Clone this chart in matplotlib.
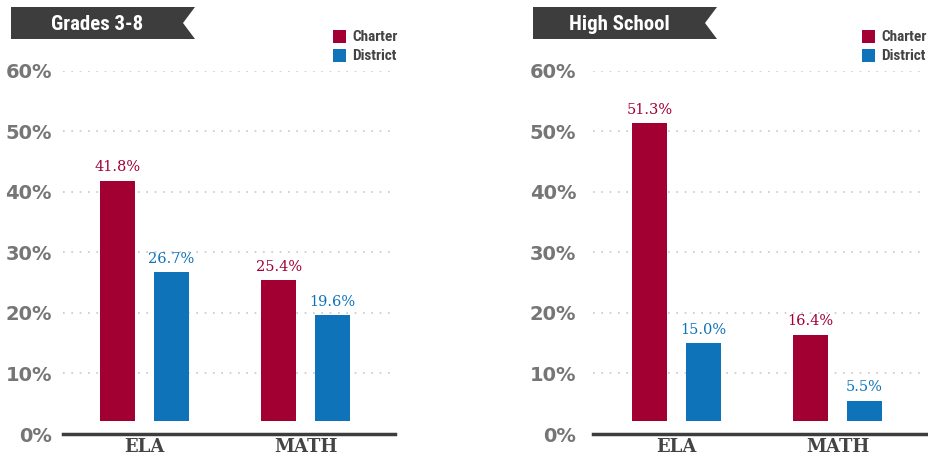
import numpy as np
import matplotlib.pyplot as plt
from matplotlib import font_manager
from matplotlib.patches import Polygon, Rectangle

subjects = ["ELA", "MATH"]
grades_charter = [41.8, 25.4]
grades_district = [26.7, 19.6]
hs_charter = [51.3, 16.4]
hs_district = [15.0, 5.5]
yticks = [0, 10, 20, 30, 40, 50, 60]

RED = "#a20033"
BLUE = "#0f73b9"
DARK = "#3d3d3d"
GRAY = "#767676"

installed = {f.name for f in font_manager.fontManager.ttflist}
narrow_opts = ["Liberation Sans Narrow", "Roboto Condensed", "DejaVu Sans Condensed",
               "Open Sans Condensed", "Roboto"]
NARROW = [n for n in narrow_opts if n in installed][:1] + ["DejaVu Sans"]

base = 2.1  # bars float a little above the axis line
w = 0.217
off = 0.166

fig = plt.figure(figsize=(9.29, 4.55), dpi=100)

# full-figure overlay in pixel coords for banners / legends
ov = fig.add_axes([0, 0, 1, 1])
ov.set_xlim(0, 929)
ov.set_ylim(455, 0)
ov.axis("off")


def banner(x0, x1, text):
    y0, y1 = 7, 39
    pts = [(x0, y0), (x1, y0), (x1 - 12, (y0 + y1) / 2), (x1, y1), (x0, y1)]
    ov.add_patch(Polygon(pts, closed=True, color=DARK, lw=0))
    ov.text((x0 + x1 - 12) / 2, (y0 + y1) / 2 + 1, text, color="white",
            fontsize=15, fontweight="bold", family=NARROW,
            ha="center", va="center")


def legend(x, y):
    for i, (lab, c) in enumerate([("Charter", RED), ("District", BLUE)]):
        yy = y + i * 19
        ov.add_patch(Rectangle((x, yy), 13, 13, color=c, lw=0))
        ov.text(x + 19, yy + 7, lab, color="#444444", fontsize=11,
                fontweight="bold", family=NARROW, va="center", ha="left")


def panel(rect, charter, district, xlim, pad):
    ax = fig.add_axes(rect)
    x = np.arange(len(subjects))
    ch = np.array(charter)
    di = np.array(district)
    ax.bar(x - off, ch - base, w, bottom=base, color=RED, zorder=3)
    ax.bar(x + off, di - base, w, bottom=base, color=BLUE, zorder=3)
    for xi, v in zip(x - off, ch):
        ax.text(xi, v + 1.1, f"{v:.1f}%", ha="center", va="bottom",
                color=RED, fontsize=10.5, family="DejaVu Serif")
    for xi, v in zip(x + off, di):
        ax.text(xi, v + 1.1, f"{v:.1f}%", ha="center", va="bottom",
                color=BLUE, fontsize=10.5, family="DejaVu Serif")
    ax.set_xlim(*xlim)
    ax.set_ylim(0, 60)
    ax.set_yticks(yticks)
    ax.set_yticklabels([f"{t}%" for t in yticks], color=GRAY,
                       fontsize=14, fontweight="bold")
    ax.set_xticks(x)
    ax.set_xticklabels(subjects, color="#444444", fontsize=13,
                       fontweight="bold", family="DejaVu Serif")
    ax.tick_params(axis="y", length=0, pad=pad)
    ax.tick_params(axis="x", length=0, pad=3)
    for t in yticks[1:]:
        ax.axhline(t, color="#c8c8c8", lw=1.2, ls=(0, (1, 4)), zorder=1)
    for s in ["top", "right", "left"]:
        ax.spines[s].set_visible(False)
    ax.spines["bottom"].set_color(DARK)
    ax.spines["bottom"].set_linewidth(2.5)
    ax.set_facecolor("none")
    return ax


panel([63 / 929, 1 - 434 / 455, 332 / 929, 363.3 / 455],
      grades_charter, grades_district, (-0.506, 1.556), 8)
panel([593 / 929, 1 - 434 / 455, 333 / 929, 363.3 / 455],
      hs_charter, hs_district, (-0.519, 1.55), 12)

banner(11, 195, "Grades 3-8")
banner(533, 717, "High School")
legend(333, 30)
legend(862, 30)

fig.savefig("out.png", dpi=100)
